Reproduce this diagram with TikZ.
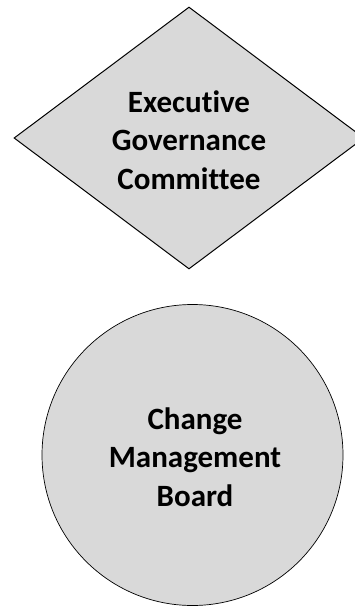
\documentclass[tikz,border=0pt]{standalone}
\usepackage{fontspec}
\setmainfont[Ligatures={NoCommon}]{Carlito}
\usetikzlibrary{shapes.geometric}
\definecolor{boxgray}{HTML}{D9D9D9}
\tikzset{
  labeltext/.style={font=\bfseries\fontsize{31}{38.5}\selectfont, align=center, text=black},
  govshape/.style={shape=diamond, draw=black, line width=1pt, fill=boxgray, aspect=1.336,
    minimum width=350pt, minimum height=262pt, inner sep=0pt},
  boardshape/.style={shape=circle, draw=black, line width=0.7pt, fill=boxgray,
    minimum size=301pt, inner sep=0pt}
}
\begin{document}
\begin{tikzpicture}[x=1pt,y=-1pt]
\useasboundingbox (0,0) rectangle (354,606);
\node[govshape] (egc) at (189,138) {};
\node[labeltext] (egct) at (189,140) {Executive\\Governance\\Committee};
\node[boardshape] (cmb) at (192.5,455) {};
\node[labeltext] (cmbt) at (195,457) {Change\\Management\\Board};
\end{tikzpicture}
\end{document}
